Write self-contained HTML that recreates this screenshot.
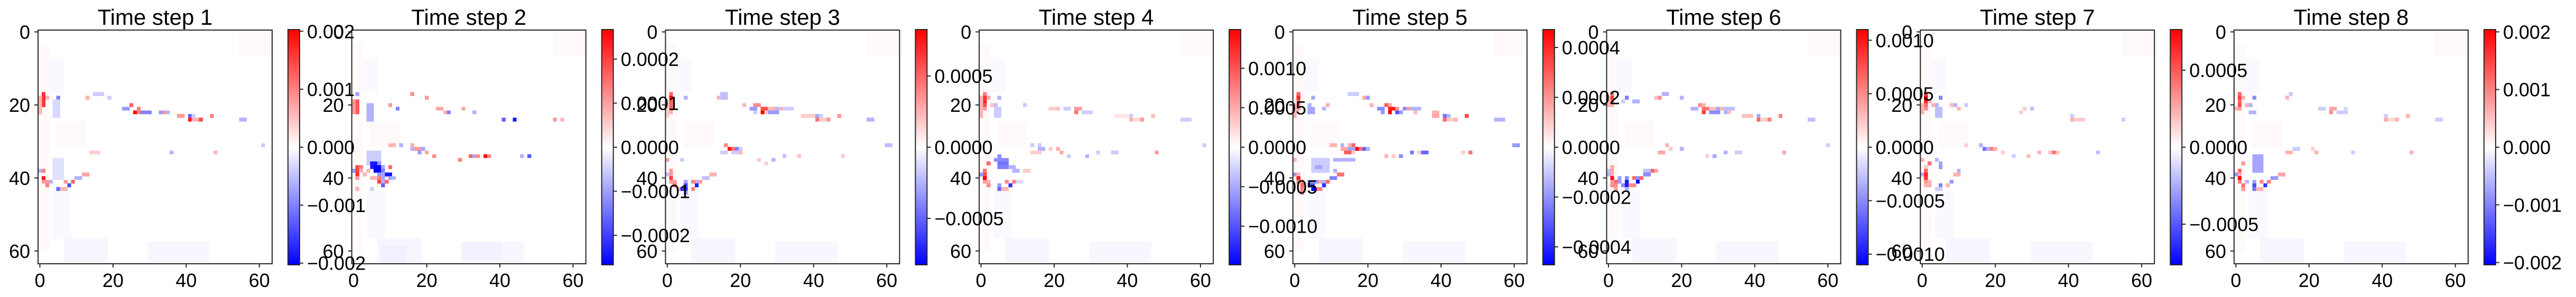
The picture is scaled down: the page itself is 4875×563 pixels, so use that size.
<!DOCTYPE html>
<html><head><meta charset="utf-8">
<style>
html,body{margin:0;padding:0;background:#fff;}
svg{display:block;font-family:"Liberation Sans","DejaVu Sans",sans-serif;}
</style></head>
<body>
<svg id="fig" width="4875" height="563" viewBox="0 0 4875 563" xmlns="http://www.w3.org/2000/svg">
<defs>
<linearGradient id="bwr" x1="0" y1="0" x2="0" y2="1">
<stop offset="0" stop-color="#ff0000"/><stop offset="0.5" stop-color="#ffffff"/><stop offset="1" stop-color="#0000ff"/>
</linearGradient>
</defs>
</svg>
<script>
// ---- chart data ----
const panelTitles = ["Time step 1","Time step 2","Time step 3","Time step 4","Time step 5","Time step 6","Time step 7","Time step 8"];
const colorLimits = [0.00203, 0.000267, 0.000826, 0.00149, 0.000472, 0.0011, 0.000764, 0.00204];
const cbTickValues = [
 [0.002,0.001,0,-0.001,-0.002],
 [0.0002,0.0001,0,-0.0001,-0.0002],
 [0.0005,0,-0.0005],
 [0.001,0.0005,0,-0.0005,-0.001],
 [0.0004,0.0002,0,-0.0002,-0.0004],
 [0.001,0.0005,0,-0.0005,-0.001],
 [0.0005,0,-0.0005],
 [0.002,0.001,0,-0.001,-0.002]
];
const cbTickLabels = [
 ["0.002","0.001","0.000","\u22120.001","\u22120.002"],
 ["0.0002","0.0001","0.0000","\u22120.0001","\u22120.0002"],
 ["0.0005","0.0000","\u22120.0005"],
 ["0.0010","0.0005","0.0000","\u22120.0005","\u22120.0010"],
 ["0.0004","0.0002","0.0000","\u22120.0002","\u22120.0004"],
 ["0.0010","0.0005","0.0000","\u22120.0005","\u22120.0010"],
 ["0.0005","0.0000","\u22120.0005"],
 ["0.002","0.001","0.000","\u22120.001","\u22120.002"]
];
const axisTicks = [0,20,40,60];
const gridSize = 64;
// faint background patches: [row0,row1,col0,col1,value as fraction of limit]
const backgroundPatches = [
 [4,60,0,2,0.025],[57,63,7,18,-0.035],[58,63,30,46,-0.03],[25,31,5,12,0.025],[0,6,55,63,0.025],[8,16,3,6,-0.025],[44,56,4,8,-0.025]
];
// salient cells: [row0,row1,col0,col1,value as fraction of limit]
const p1Cells = [[17,20,1,1,.8],[18,22,0,0,.3],[18,18,2,2,.3],[18,18,5,5,-.5],[20,20,4,4,-.3],[19,23,4,5,-.15],[20,20,25,25,.6],[21,21,23,24,-.4],[22,22,26,26,1],[21,22,27,27,.5],[22,22,28,30,-.5],[22,22,33,33,-.4],[22,22,34,34,.4],[22,22,35,35,-.3],[23,23,38,39,.4],[23,23,41,41,-.6],[23,23,42,42,-.2],[23,23,47,47,.5],[24,24,41,41,.9],[24,24,42,43,.3],[24,24,44,44,.7],[24,24,55,56,-.3],[17,17,15,17,-.2],[18,18,19,19,-.2],[18,18,13,13,.3],[35,40,4,6,-.12],[38,38,1,1,.5],[38,38,0,0,-.3],[40,40,1,1,.9],[41,41,1,2,.4],[41,41,3,3,-.3],[41,41,7,7,.4],[41,41,9,9,.6],[42,42,2,2,.5],[42,42,8,8,-.7],[43,43,5,5,-.6],[43,43,6,7,.3],[40,40,10,11,-.3],[39,39,12,13,.35],[33,33,14,16,.2],[33,33,36,36,-.3],[33,33,48,48,.3],[31,31,61,61,-.2]];
const p2Cells = [[17,17,1,1,-.35],[19,22,1,1,.65],[19,22,0,0,.4],[20,24,4,5,-.3],[21,21,12,12,-.5],[20,20,10,10,.4],[17,17,16,16,.45],[18,18,20,20,.4],[21,21,23,24,.35],[22,22,25,25,.3],[22,22,26,26,-.5],[21,21,30,30,.35],[22,22,33,33,-.3],[24,24,41,41,-.6],[24,24,44,44,-.9],[24,24,55,55,.4],[24,24,57,57,.3],[31,31,13,13,-.3],[31,31,16,16,.3],[31,31,10,11,.3],[32,32,17,18,.4],[32,32,19,19,-.35],[32,32,16,16,-.3],[33,33,20,20,.35],[33,33,18,18,-.4],[34,34,22,22,.45],[34,34,32,32,.6],[34,34,33,33,-.35],[34,34,34,34,.45],[34,34,36,36,1],[34,34,37,37,.5],[34,34,46,46,-.3],[34,34,48,48,-.65],[35,35,29,29,.5],[33,36,4,7,-.2],[36,36,5,6,-.9],[36,36,7,7,-.4],[37,37,5,5,-.9],[37,37,6,7,-1],[37,37,8,8,-.35],[38,38,6,7,-1],[38,38,8,8,-.5],[37,37,1,1,.7],[37,37,2,2,.5],[37,37,10,10,.6],[38,38,0,0,-.4],[38,38,1,1,.75],[38,38,2,2,.3],[38,38,4,4,.3],[39,39,1,1,.8],[39,39,3,3,.3],[39,39,9,10,-.9],[39,39,7,7,-.4],[39,39,8,8,-.35],[40,40,1,1,.4],[40,40,5,6,.3],[40,40,7,7,.5],[40,40,8,8,-.35],[40,40,10,10,-.35],[40,40,11,11,-.3],[41,41,7,7,.75],[41,41,8,8,-.3],[41,41,9,9,.6],[42,42,8,8,-.6],[43,43,1,1,.3],[43,43,5,5,-.2],[59,63,8,14,-.06],[58,62,30,40,-.05]];
const p3Cells = [[17,17,1,1,.6],[18,18,1,1,1],[19,21,1,1,.6],[22,22,1,1,.3],[19,23,0,0,.2],[18,18,5,5,-.3],[18,18,14,14,.3],[17,18,15,16,-.25],[20,20,21,21,.3],[20,20,24,25,.45],[21,21,23,24,-.4],[21,21,26,27,.7],[21,21,28,29,.3],[21,21,30,30,-.3],[21,21,31,31,.3],[21,21,32,34,-.2],[22,22,24,24,-.2],[22,22,26,26,1],[22,22,27,27,.2],[22,22,28,30,-.4],[23,23,37,40,.2],[23,23,41,41,-.35],[23,23,42,42,-.2],[23,23,47,47,.4],[24,24,41,41,.55],[24,24,42,43,.2],[24,24,44,44,.4],[24,24,55,56,-.3],[31,31,16,16,.45],[31,31,60,61,-.25],[32,32,17,17,.9],[32,32,18,18,.55],[32,32,19,19,-.5],[32,32,20,20,-.2],[33,33,15,16,-.2],[33,33,18,19,-.2],[33,33,20,20,.3],[34,34,32,32,-.25],[34,34,36,36,.25],[34,34,48,48,.2],[35,35,0,0,.4],[35,35,4,4,-.2],[35,35,29,29,-.3],[35,35,25,25,.2],[36,36,27,27,.2],[38,39,1,1,.4],[39,39,0,0,-.25],[39,39,12,13,.3],[40,40,1,1,.75],[40,40,10,11,-.25],[41,41,1,2,.4],[41,41,5,5,-.35],[41,41,7,7,.5],[41,41,8,8,-.3],[41,41,9,9,.4],[42,42,2,2,.6],[42,42,5,5,-.7],[42,42,8,8,-.9],[43,43,4,5,-.8],[43,43,3,3,.3],[43,43,7,7,.5],[44,44,5,5,-.4]];
const p4Cells = [[17,17,1,1,.5],[18,18,1,1,.8],[19,19,1,1,.85],[20,20,1,1,.7],[21,21,1,1,.4],[18,23,0,0,.3],[18,18,2,2,.35],[20,20,3,3,.25],[18,18,5,5,-.3],[20,20,4,4,-.25],[21,23,4,5,-.2],[20,20,12,12,-.2],[21,21,19,20,.2],[21,21,21,21,.25],[21,21,23,24,-.2],[21,21,26,27,.4],[22,22,26,26,.55],[22,22,28,30,-.2],[23,23,41,41,-.2],[23,23,47,47,.25],[23,23,37,40,.1],[24,24,41,41,.3],[24,24,42,43,.15],[24,24,44,44,.4],[24,24,55,57,-.2],[31,31,14,14,-.2],[31,31,16,16,-.2],[31,31,61,61,-.2],[32,32,16,17,-.3],[32,32,19,19,.2],[32,32,21,21,.3],[33,33,14,16,.2],[33,33,22,22,.35],[33,33,32,32,-.2],[33,33,36,37,-.2],[33,33,48,48,.4],[34,34,24,24,-.2],[34,34,29,29,-.3],[34,34,5,5,-.45],[35,35,4,7,-.45],[36,36,5,7,-.55],[37,37,5,7,-.5],[37,37,8,9,-.3],[38,38,9,10,-.3],[38,38,12,13,.2],[36,36,2,2,.6],[38,38,1,1,.55],[39,39,1,1,.7],[40,40,1,1,1],[39,39,0,0,-.4],[41,41,1,1,.4],[41,41,2,2,.3],[41,41,7,7,.45],[41,41,9,9,.5],[41,41,10,11,-.15],[42,42,2,2,.45],[42,42,5,5,-.4],[42,42,8,8,-.8],[43,43,5,5,-.6],[43,43,6,7,.3]];
const p5Cells = [[17,17,1,1,.6],[18,18,1,1,.85],[19,19,1,1,.6],[20,20,1,1,.5],[21,21,1,1,.4],[20,23,0,0,.3],[18,18,5,5,-.35],[20,20,4,4,-.3],[21,22,4,5,-.35],[21,21,8,8,-.3],[20,20,9,9,.3],[17,17,15,17,-.2],[18,18,19,19,.35],[18,18,20,20,-.4],[20,20,21,21,.3],[20,20,25,25,.65],[20,20,26,26,.35],[21,21,23,24,-.45],[21,21,26,27,.9],[21,21,28,28,.4],[21,21,30,30,-.45],[21,21,31,31,.4],[21,21,32,34,-.3],[22,22,24,24,-.4],[22,22,26,26,1],[22,22,28,28,-.7],[22,22,29,29,-.4],[22,22,33,33,.25],[22,22,38,39,.3],[23,23,38,39,.35],[23,23,41,41,-.55],[23,23,42,42,-.3],[23,23,47,47,.7],[24,24,41,41,.6],[24,24,42,43,.2],[24,24,44,44,.3],[24,24,55,57,-.3],[31,31,13,13,-.3],[31,31,15,15,.3],[31,31,16,16,.6],[31,31,10,11,.3],[31,31,60,61,-.4],[32,32,17,17,1],[32,32,18,18,.55],[32,32,19,19,-.6],[32,32,20,20,-.3],[32,32,13,14,.35],[32,32,15,16,-.35],[33,33,14,15,.65],[33,33,16,16,.2],[33,33,32,32,-.55],[33,33,35,36,-.6],[33,33,34,34,.2],[33,33,48,48,.55],[33,33,46,46,.2],[34,34,25,25,.3],[34,34,27,27,.2],[34,34,29,29,-.45],[35,35,11,16,-.3],[35,35,0,0,.3],[35,38,5,9,-.2],[37,37,6,7,-.35],[38,38,11,11,-.3],[39,39,12,13,.55],[39,39,0,0,-.4],[39,39,1,1,.3],[40,40,1,1,.9],[40,40,10,11,-.5],[41,41,1,2,.45],[41,41,4,6,-.4],[41,41,7,7,.35],[41,41,8,8,-.3],[41,41,9,9,.6],[42,42,2,2,.6],[42,42,4,5,-.7],[42,42,8,8,-.8],[43,43,2,2,.5],[43,43,5,5,-1],[43,43,6,7,.5],[44,44,2,2,.5]];
const p6Cells = [[17,17,1,1,.5],[18,18,1,1,.8],[19,19,1,1,.6],[20,20,1,1,.3],[18,20,0,0,.3],[18,18,5,5,-.5],[19,19,4,4,-.2],[19,19,7,8,-.3],[18,18,13,13,.25],[18,18,14,14,.45],[17,17,15,16,-.3],[18,18,20,20,-.3],[20,20,25,25,.45],[20,20,26,26,.3],[21,21,23,24,-.3],[21,21,26,27,.55],[21,21,28,29,.25],[21,21,30,30,-.35],[21,21,31,31,.3],[21,21,32,34,-.25],[22,22,26,26,.75],[22,22,28,29,-.45],[22,22,30,30,-.45],[22,22,32,32,-.3],[22,22,33,33,.25],[23,23,37,39,.25],[23,23,41,41,-.35],[23,23,47,47,.5],[24,24,41,41,.6],[24,24,42,43,.2],[24,24,44,44,.5],[24,24,55,56,-.25],[31,31,16,16,.3],[31,31,60,60,-.2],[32,32,17,17,.2],[32,32,20,20,-.3],[33,33,14,15,.35],[33,33,32,32,-.3],[33,33,35,36,-.2],[33,33,48,48,.35],[34,34,29,29,-.35],[34,34,27,27,.2],[37,38,1,1,.35],[38,38,0,0,-.25],[38,38,12,12,.6],[38,38,13,13,.35],[38,38,10,11,-.25],[39,39,0,0,-.3],[39,39,1,1,.35],[39,39,10,11,-.45],[40,40,1,1,1],[40,40,3,3,-.4],[40,40,5,5,-.45],[40,40,7,7,.6],[40,40,8,8,-.45],[40,40,9,9,.6],[41,41,1,1,.4],[41,41,2,2,.6],[41,41,3,3,-.4],[41,41,5,5,-.9],[41,41,8,8,-1],[42,42,1,2,.45],[42,42,4,4,-.45],[42,42,5,5,-.9],[42,42,6,7,.45],[43,43,2,2,.4],[43,43,5,5,-.3]];
const p7Cells = [[17,17,1,1,.7],[18,18,1,1,1],[19,19,1,1,.85],[20,20,1,1,.6],[21,21,1,1,.45],[20,22,0,0,.3],[19,19,2,2,.3],[20,20,3,3,.3],[18,18,5,5,-.5],[20,20,4,4,-.3],[21,23,4,5,-.25],[20,20,8,8,.25],[20,20,9,9,-.3],[20,20,12,12,-.2],[21,21,10,10,.3],[21,21,28,28,.2],[21,21,30,30,-.25],[22,22,27,27,.2],[23,23,41,41,-.2],[24,24,41,41,.3],[24,24,42,44,.2],[24,24,55,55,-.2],[31,31,16,16,-.3],[31,31,12,12,.2],[32,32,17,17,-.55],[32,32,18,18,-.3],[32,32,19,19,.5],[32,32,20,20,.3],[33,33,22,22,.2],[33,33,32,32,.3],[33,33,35,35,.25],[33,33,36,36,.55],[33,33,37,37,.25],[33,33,48,48,-.25],[34,34,25,25,-.2],[34,34,29,29,.25],[35,35,0,0,.3],[35,35,4,4,-.3],[36,36,2,2,.55],[36,36,5,5,-.35],[37,37,1,1,.2],[37,37,5,5,-.4],[38,38,1,1,.6],[38,38,10,10,-.3],[39,39,0,0,-.3],[39,39,1,1,.85],[39,39,9,10,.3],[40,40,1,1,.8],[41,41,1,1,.4],[41,41,2,2,.3],[41,41,8,8,-.4],[42,42,1,2,.3],[42,42,5,5,-.5],[42,42,7,7,.3],[43,43,4,5,-.2]];
const p8Cells = [[17,17,1,1,.6],[18,18,1,1,.75],[19,19,1,1,.6],[20,20,1,1,.7],[21,21,1,1,.4],[21,21,0,0,.3],[18,18,2,2,.3],[20,20,3,3,.3],[18,18,5,5,-.45],[20,20,4,4,-.3],[22,22,4,5,-.3],[18,18,14,14,.3],[17,17,15,15,-.2],[21,21,23,24,-.2],[21,21,26,27,.35],[21,21,30,30,-.15],[22,22,26,26,.45],[22,22,28,30,-.2],[23,23,41,41,-.2],[23,23,47,47,.3],[24,24,41,41,.35],[24,24,42,43,.15],[24,24,44,44,.3],[24,24,55,56,-.2],[32,32,16,17,-.2],[32,32,21,21,.2],[33,33,14,15,.3],[33,33,22,22,.3],[33,33,48,48,.3],[33,33,32,32,-.2],[34,38,5,7,-.35],[36,36,2,2,.4],[38,38,1,1,.6],[39,39,0,0,-.4],[39,39,1,1,.35],[39,39,12,13,.35],[40,40,1,1,1],[40,40,10,11,-.4],[41,41,1,1,.5],[41,41,7,7,.5],[41,41,9,9,.5],[41,41,3,3,-.3],[41,41,5,5,-.35],[42,42,2,2,.55],[42,42,5,5,-.7],[42,42,8,8,-.8],[43,43,2,2,.4],[43,43,5,5,-.55],[43,43,6,7,.3]];
const panelCells = [p1Cells,p2Cells,p3Cells,p4Cells,p5Cells,p6Cells,p7Cells,p8Cells];

// ---- layout ----
const NS = "http://www.w3.org/2000/svg";
const svg = document.getElementById("fig");
const axLeft0 = 72, axPitch = 593.7, axW = 443, axTop = 57, axH = 443;
const cbOffset = 473, cbW = 22, cbTop = 56, cbH = 446;
const ink = "#262626";

function mk(tag, attrs, parent) {
  const e = document.createElementNS(NS, tag);
  for (const k in attrs) e.setAttribute(k, attrs[k]);
  (parent || svg).appendChild(e);
  return e;
}
function bwr(f) {
  f = Math.max(-1, Math.min(1, f));
  if (f >= 0) { const g = Math.round(255 * (1 - f)); return `rgb(255,${g},${g})`; }
  const g = Math.round(255 * (1 + f)); return `rgb(${g},${g},255)`;
}

const labelLayer = document.createElementNS(NS, "g");



for (let p = 0; p < 8; p++) {
  const left = axLeft0 + axPitch * p;
  const cw = axW / gridSize, ch = axH / gridSize;
  const xScale = c => left + (c + 0.5) * cw;
  const yScale = r => axTop + (r + 0.5) * ch;

  const g = mk("g", {});
  
  

  mk("rect", {x: left, y: axTop, width: axW, height: axH, fill: "#ffffff"}, g);

  const cellG = mk("g", {"shape-rendering": "crispEdges"}, g);
  
  
  const drawSet = (list) => {
    for (const [r0, r1, c0, c1, v] of list) {
      for (let r = r0; r <= r1; r++) for (let c = c0; c <= c1; c++) {
        const rc = mk("rect", {x: (xScale(c) - cw / 2).toFixed(2), y: (yScale(r) - ch / 2).toFixed(2),
          width: (cw + 0.4).toFixed(2), height: (ch + 0.4).toFixed(2), fill: bwr(v)}, cellG);
        
        
      }
    }
  };
  drawSet(backgroundPatches);
  drawSet(panelCells[p]);

  const frame = mk("rect", {x: left, y: axTop, width: axW, height: axH, fill: "none", stroke: ink, "stroke-width": 2}, g);
  
  

  const t = mk("text", {x: left + axW / 2, y: 47, "text-anchor": "middle", "font-size": 42, fill: "#000"}, g);
  t.textContent = panelTitles[p];
  
  

  for (const tv of axisTicks) {
    const x = xScale(tv);
    mk("line", {x1: x, y1: axTop + axH, x2: x, y2: axTop + axH + 7, stroke: ink, "stroke-width": 2}, g);
    const xl = mk("text", {x: x, y: 544, "text-anchor": "middle", "font-size": 36, fill: "#000"}, g);
    xl.textContent = String(tv);
    
    
    const y = yScale(tv);
    mk("line", {x1: left, y1: y, x2: left - 7, y2: y, stroke: ink, "stroke-width": 2}, g);
    const yl = mk("text", {x: left - 15, y: y + 13, "text-anchor": "end", "font-size": 36, fill: "#000"}, g);
    yl.textContent = String(tv);
    
    
  }

  const cbL = left + cbOffset;
  const cb = mk("rect", {x: cbL, y: cbTop, width: cbW, height: cbH, fill: "url(#bwr)", stroke: ink, "stroke-width": 2}, g);
  
  
  const lim = colorLimits[p];
  const cbScale = v => cbTop + cbH / 2 - (v / lim) * (cbH / 2);
  cbTickValues[p].forEach((v, i) => {
    const y = cbScale(v);
    mk("line", {x1: cbL + cbW, y1: y, x2: cbL + cbW + 7, y2: y, stroke: ink, "stroke-width": 2}, g);
    const cl = mk("text", {x: cbL + cbW + 14, y: y + 13, "text-anchor": "start", "font-size": 36, fill: "#000"}, labelLayer);
    cl.textContent = cbTickLabels[p][i];
    
    
  });
}
svg.appendChild(labelLayer);
</script>
</body></html>
